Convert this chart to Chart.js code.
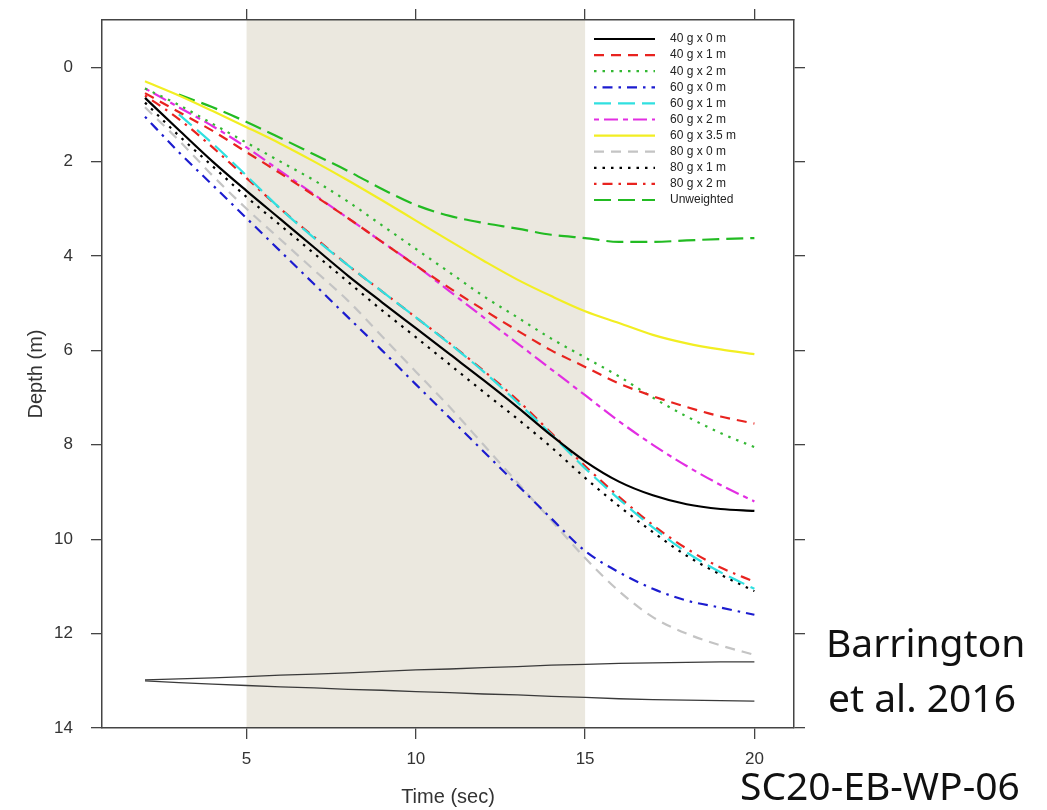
<!DOCTYPE html>
<html>
<head>
<meta charset="utf-8">
<title>Depth vs time</title>
<script src="https://cdn.jsdelivr.net/npm/chart.js@4.4.1/dist/chart.umd.min.js"></script>
<style>
  html, body { margin: 0; padding: 0; background: #fff; }
  #wrap { position: relative; width: 1047px; height: 810px; }
  .note { position: absolute; font-family: "Noto Sans", sans-serif; font-size: 39px; line-height: 1; color: #111; white-space: nowrap; }
</style>
</head>
<body>
<div id="wrap">
  <canvas id="depthChart" width="1047" height="810"></canvas>
  <div class="note" style="left:826px; top:622px">Barrington</div>
  <div class="note" style="left:828px; top:677px">et al. 2016</div>
  <div class="note" style="left:740px; top:765px">SC20-EB-WP-06</div>
</div>
<script>
// time (sec) and depth (m)
const times = [2, 3, 4, 5, 6, 7, 8, 9, 10, 11, 12, 13, 14, 15, 16, 17, 18, 19, 20];

const d40g0m  = [0.65, 1.33, 2.0, 2.62, 3.22, 3.82, 4.42, 4.98, 5.53, 6.08, 6.63, 7.2, 7.8, 8.35, 8.78, 9.07, 9.26, 9.36, 9.4];
const d40g1m  = [0.55, 0.95, 1.35, 1.8, 2.25, 2.72, 3.2, 3.7, 4.2, 4.68, 5.14, 5.58, 6.0, 6.35, 6.7, 6.97, 7.2, 7.4, 7.55];
const d40g2m  = [0.45, 0.8, 1.2, 1.6, 2.0, 2.4, 2.85, 3.35, 3.85, 4.35, 4.85, 5.3, 5.75, 6.15, 6.55, 7.0, 7.4, 7.75, 8.05];
const d60g0m  = [1.05, 1.8, 2.5, 3.2, 3.9, 4.6, 5.3, 6.0, 6.72, 7.43, 8.14, 8.85, 9.56, 10.25, 10.7, 11.05, 11.3, 11.45, 11.6];
const d60g1m  = [null, 1.0, 1.62, 2.3, 3.0, 3.62, 4.2, 4.75, 5.3, 5.86, 6.45, 7.1, 7.78, 8.5, 9.15, 9.75, 10.28, 10.7, 11.05];
const d60g2m  = [0.45, 0.85, 1.25, 1.7, 2.2, 2.7, 3.2, 3.7, 4.2, 4.75, 5.3, 5.85, 6.4, 6.95, 7.5, 8.0, 8.45, 8.85, 9.2];
const d60g35m = [0.3, 0.6, 0.93, 1.27, 1.62, 2.0, 2.4, 2.82, 3.25, 3.68, 4.1, 4.5, 4.85, 5.17, 5.42, 5.67, 5.85, 5.98, 6.08];
const d80g0m  = [0.85, 1.55, 2.3, 3.0, 3.65, 4.3, 4.95, 5.7, 6.45, 7.2, 8.0, 8.8, 9.6, 10.4, 11.1, 11.65, 12.0, 12.25, 12.45];
const d80g1m  = [0.75, 1.45, 2.1, 2.75, 3.35, 3.95, 4.55, 5.15, 5.72, 6.3, 6.88, 7.45, 8.05, 8.7, 9.3, 9.85, 10.35, 10.75, 11.1];
const d80g2m  = [0.6, 1.1, 1.7, 2.35, 3.0, 3.6, 4.2, 4.75, 5.3, 5.85, 6.43, 7.05, 7.75, 8.45, 9.1, 9.7, 10.2, 10.6, 10.9];
const dUnweighted = [null, 0.58, 0.85, 1.16, 1.5, 1.85, 2.2, 2.58, 2.92, 3.15, 3.3, 3.42, 3.55, 3.62, 3.7, 3.7, 3.67, 3.64, 3.62];

// the two thin lines near the bottom (no legend entry)
const lineUpper = [12.98, 12.96, 12.94, 12.91, 12.88, 12.86, 12.83, 12.8, 12.77, 12.75, 12.72, 12.7, 12.67, 12.65, 12.63, 12.62, 12.61, 12.6, 12.6];
const lineLower = [13.0, 13.04, 13.07, 13.1, 13.13, 13.15, 13.18, 13.2, 13.23, 13.25, 13.28, 13.3, 13.33, 13.35, 13.38, 13.4, 13.41, 13.42, 13.43];

const xTickValues = [5, 10, 15, 20];
const yTickValues = [0, 2, 4, 6, 8, 10, 12, 14];
const shadeFrom = 5;
const shadeTo = 15;

function toPoints(values) {
    return times.map((t, i) => ({ x: t, y: values[i] })).filter(p => p.y !== null);
}

function series(label, values, color, dash) {
    return {
        label: label,
        data: toPoints(values),
        borderColor: color,
        borderWidth: 2.2,
        borderDash: dash,
        pointRadius: 0,
        cubicInterpolationMode: 'monotone',
        fill: false
    };
}

const DASHED = [10, 7];
const DOTTED = [2.5, 6];
const DOTDASH = [2.5, 6, 10, 6];
const LONGDASH = [17, 7];
const TWODASH = [5, 5, 14, 5];

const datasets = [
    series('40 g x 0 m', d40g0m, '#000000', []),
    series('40 g x 1 m', d40g1m, '#e8231f', DASHED),
    series('40 g x 2 m', d40g2m, '#33b833', DOTTED),
    series('60 g x 0 m', d60g0m, '#1c1ccf', DOTDASH),
    series('60 g x 1 m', d60g1m, '#30e0e0', LONGDASH),
    series('60 g x 2 m', d60g2m, '#e22ee2', TWODASH),
    series('60 g x 3.5 m', d60g35m, '#f2ee22', []),
    series('80 g x 0 m', d80g0m, '#c4c4c4', DASHED),
    series('80 g x 1 m', d80g1m, '#000000', DOTTED),
    series('80 g x 2 m', d80g2m, '#e8231f', DOTDASH),
    series('Unweighted', dUnweighted, '#22bb22', LONGDASH),
    { label: '', data: toPoints(lineUpper), borderColor: '#3a3a3a', borderWidth: 1.3, pointRadius: 0, fill: false },
    { label: '', data: toPoints(lineLower), borderColor: '#3a3a3a', borderWidth: 1.3, pointRadius: 0, fill: false }
];

const shadePlugin = {
    id: 'shade',
    beforeDraw(chart) {
        const { ctx, chartArea, scales } = chart;
        const x0 = scales.x.getPixelForValue(shadeFrom);
        const x1 = scales.x.getPixelForValue(shadeTo);
        ctx.save();
        ctx.fillStyle = '#ebe8df';
        ctx.fillRect(x0, chartArea.top, x1 - x0, chartArea.bottom - chartArea.top);
        ctx.restore();
    }
};

// R style legend: line sample + text, one entry per row, no box
const legendPlugin = {
    id: 'rLegend',
    afterDatasetsDraw(chart) {
        const ctx = chart.ctx;
        const left = chart.chartArea.right - 200;
        ctx.save();
        ctx.font = '12px "Liberation Sans", Arial, sans-serif';
        ctx.textBaseline = 'middle';
        ctx.fillStyle = '#222';
        let row = 0;
        chart.data.datasets.forEach(ds => {
            if (!ds.label) return;
            const y = chart.chartArea.top + 19 + row * 16.1;
            ctx.strokeStyle = ds.borderColor;
            ctx.lineWidth = ds.borderWidth;
            ctx.setLineDash(ds.borderDash || []);
            ctx.beginPath();
            ctx.moveTo(left, y);
            ctx.lineTo(left + 61, y);
            ctx.stroke();
            ctx.setLineDash([]);
            ctx.fillText(ds.label, left + 76, y);
            row++;
        });
        ctx.restore();
    }
};

const tickFont = { family: '"Liberation Sans", Arial, sans-serif', size: 17 };
const titleFont = { family: '"Liberation Sans", Arial, sans-serif', size: 20 };
const tickGrid = { drawOnChartArea: false, drawTicks: true, tickLength: 11, color: '#444', lineWidth: 1.3 };
const boxBorder = { display: true, color: '#444', width: 1.5 };

// fixed axis sizes so the plot box lands where it is in the figure
function fixSize(w, h) {
    return s => {
        if (w !== null) s.width = w;
        if (h !== null) s.height = h;
        s.paddingTop = 0;
        s.paddingBottom = 0;
        s.paddingLeft = 0;
        s.paddingRight = 0;
    };
}

const config = {
    type: 'line',
    data: { datasets: datasets },
    options: {
        responsive: false,
        animation: false,
        events: [],
        layout: { padding: 0 },
        plugins: {
            legend: { display: false },
            tooltip: { enabled: false }
        },
        scales: {
            x: {
                type: 'linear',
                position: 'bottom',
                min: 0.73,
                max: 21.17,
                afterBuildTicks: s => { s.ticks = xTickValues.map(v => ({ value: v })); },
                afterFit: fixSize(null, 82),
                grid: tickGrid,
                border: boxBorder,
                ticks: { font: tickFont, color: '#333', padding: 10, maxRotation: 0 },
                title: { display: true, text: 'Time (sec)', font: titleFont, color: '#333', padding: { top: 0, bottom: 1 } }
            },
            xTop: {
                type: 'linear',
                position: 'top',
                min: 0.73,
                max: 21.17,
                afterBuildTicks: s => { s.ticks = xTickValues.map(v => ({ value: v })); },
                afterFit: fixSize(null, 20),
                grid: tickGrid,
                border: boxBorder,
                ticks: { display: false }
            },
            y: {
                type: 'linear',
                position: 'left',
                reverse: true,
                min: -1,
                max: 14,
                afterBuildTicks: s => { s.ticks = yTickValues.map(v => ({ value: v })); },
                afterFit: fixSize(102, null),
                grid: tickGrid,
                border: boxBorder,
                ticks: { font: tickFont, color: '#333', padding: 18 },
                title: { display: true, text: 'Depth (m)', font: titleFont, color: '#333', padding: { top: 24, bottom: 0 } }
            },
            yRight: {
                type: 'linear',
                position: 'right',
                reverse: true,
                min: -1,
                max: 14,
                afterBuildTicks: s => { s.ticks = yTickValues.map(v => ({ value: v })); },
                afterFit: fixSize(253, null),
                grid: tickGrid,
                border: boxBorder,
                ticks: { display: false }
            }
        }
    },
    plugins: [shadePlugin, legendPlugin]
};

const ctx = document.getElementById('depthChart').getContext('2d');
const depthChart = new Chart(ctx, config);
</script>
</body>
</html>
